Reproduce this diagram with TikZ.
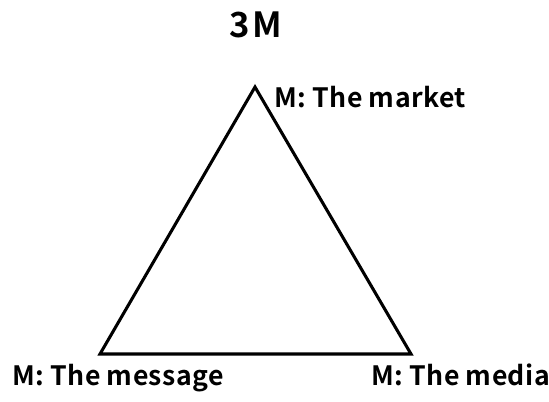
\documentclass[tikz,border=0pt]{standalone}
\usepackage{fontspec}
\setmainfont{Noto Sans CJK JP}[BoldFont={Noto Sans CJK JP Bold}]
\newfontfamily\widefont{Noto Sans CJK JP Bold}[LetterSpace=1.5]
\newfontfamily\ttlfont{Noto Sans CJK JP Bold}[LetterSpace=8]
\begin{document}
\begin{tikzpicture}[x=0.75pt,y=-0.75pt,
  lbl/.style={inner sep=0pt,font=\widefont\fontsize{20}{24}\selectfont},
  ttl/.style={inner sep=0pt,font=\ttlfont\fontsize{26}{30}\selectfont}]
\useasboundingbox (0,0) rectangle (549,401);
\coordinate (A) at (255,87);
\coordinate (B) at (100,354);
\coordinate (C) at (411,354);
\draw[line width=2.3pt,line join=miter] (A) -- (C) -- (B) -- cycle;
\node[ttl,anchor=base] (t) at (256,37) {3M};
\node[lbl,anchor=base west] (m1) at (274,107) {M: The market};
\node[lbl,anchor=base west] (m2) at (12,385) {M: The message};
\node[lbl,anchor=base west] (m3) at (371,385) {M: The media};
\end{tikzpicture}
\end{document}
